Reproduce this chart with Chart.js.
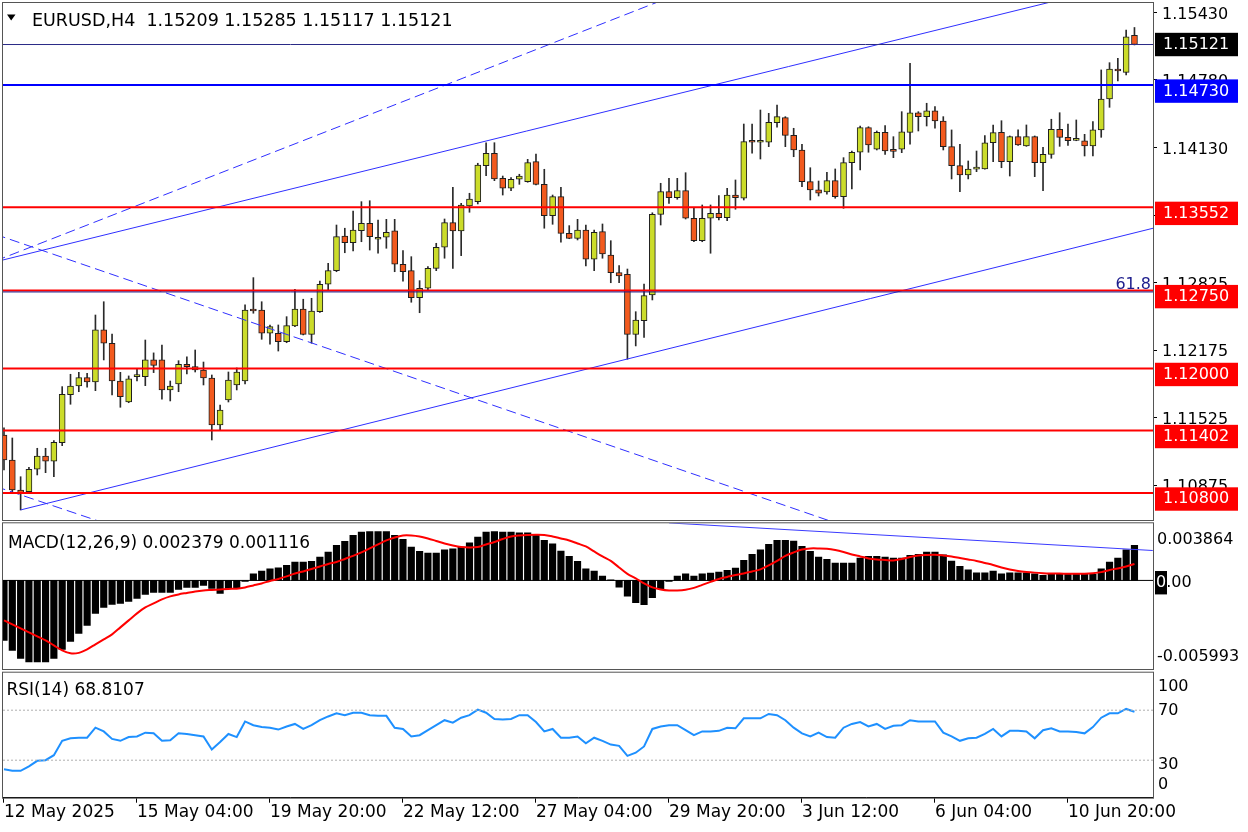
<!DOCTYPE html>
<html>
<head>
<meta charset="utf-8">
<title>EURUSD,H4</title>
<script src="https://cdn.jsdelivr.net/npm/chart.js@4.4.1/dist/chart.umd.min.js"></script>
<style>
  html, body { margin: 0; padding: 0; background: #ffffff; }
  body { position: relative; width: 1248px; height: 832px; overflow: hidden; }
  canvas { position: absolute; left: 0; }
</style>
</head>
<body>
<canvas id="priceChart" width="1248" height="521" style="top:0"></canvas>
<canvas id="macdChart" width="1248" height="150" style="top:520px"></canvas>
<canvas id="rsiChart" width="1248" height="162" style="top:670px"></canvas>
<script>
// ===== data =====
const symbol = "EURUSD,H4";

const opens = [
  1.11359, 1.11118, 1.10829, 1.10813, 1.11029, 1.11157, 1.11106, 1.11286, 1.11747, 1.11831,
  1.11911, 1.11870, 1.12371, 1.12243, 1.11879, 1.11677, 1.11921, 1.11921, 1.12082, 1.12082,
  1.11793, 1.11851, 1.12040, 1.12017, 1.11985, 1.11908, 1.11456, 1.11696, 1.11841, 1.11880,
  1.12559, 1.12563, 1.12339, 1.12339, 1.12258, 1.12409, 1.12573, 1.12329, 1.12547, 1.12811,
  1.12942, 1.13276, 1.13212, 1.13327, 1.13399, 1.13245, 1.13264, 1.13325, 1.13004, 1.12942,
  1.12682, 1.12773, 1.12965, 1.13168, 1.13405, 1.13325, 1.13565, 1.13607, 1.13954, 1.14073,
  1.13832, 1.13736, 1.13823, 1.13800, 1.13992, 1.13774, 1.13472, 1.13655, 1.13302, 1.13254,
  1.13334, 1.13052, 1.13318, 1.13093, 1.12923, 1.12907, 1.12329, 1.12460, 1.12708, 1.13485,
  1.13703, 1.13645, 1.13713, 1.13447, 1.13231, 1.13447, 1.13495, 1.13453, 1.13671, 1.13640,
  1.14185, 1.14179, 1.14179, 1.14368, 1.14416, 1.14245, 1.14105, 1.13800, 1.13720, 1.13700,
  1.13809, 1.13655, 1.13983, 1.14083, 1.14320, 1.14112, 1.14275, 1.14112, 1.14112, 1.14275,
  1.14464, 1.14426, 1.14481, 1.14384, 1.14137, 1.13954, 1.13864, 1.13920, 1.13922, 1.14175,
  1.14275, 1.13992, 1.14233, 1.14143, 1.14233, 1.13983, 1.14063, 1.14304, 1.14227, 1.14198,
  1.14192, 1.14143, 1.14298, 1.14596, 1.14885, 1.14853, 1.15209
];
const highs = [
  1.11427, 1.11330, 1.10957, 1.11048, 1.11231, 1.11231, 1.11304, 1.11825, 1.11944, 1.11963,
  1.11954, 1.12515, 1.12643, 1.12332, 1.11963, 1.11928, 1.11992, 1.12274, 1.12150, 1.12226,
  1.11879, 1.12075, 1.12111, 1.12178, 1.12062, 1.11937, 1.11648, 1.11966, 1.12005, 1.12612,
  1.12875, 1.12643, 1.12419, 1.12419, 1.12499, 1.12763, 1.12667, 1.12676, 1.12843, 1.13013,
  1.13382, 1.13351, 1.13517, 1.13607, 1.13616, 1.13430, 1.13437, 1.13437, 1.13135, 1.13077,
  1.12846, 1.12981, 1.13206, 1.13440, 1.13746, 1.13591, 1.13688, 1.13977, 1.14175, 1.14175,
  1.13854, 1.13838, 1.13871, 1.14015, 1.14066, 1.13919, 1.13671, 1.13746, 1.13376, 1.13437,
  1.13382, 1.13334, 1.13392, 1.13231, 1.12990, 1.12958, 1.12547, 1.12814, 1.13500, 1.13784,
  1.13832, 1.13832, 1.13886, 1.13543, 1.13575, 1.13575, 1.13665, 1.13736, 1.13816, 1.14355,
  1.14355, 1.14490, 1.14458, 1.14538, 1.14426, 1.14314, 1.14160, 1.13934, 1.13806, 1.13890,
  1.13922, 1.14031, 1.14095, 1.14336, 1.14329, 1.14288, 1.14339, 1.14233, 1.14474, 1.14940,
  1.14474, 1.14555, 1.14522, 1.14426, 1.14298, 1.14160, 1.13999, 1.14095, 1.14243, 1.14346,
  1.14387, 1.14240, 1.14298, 1.14346, 1.14240, 1.14131, 1.14401, 1.14464, 1.14355, 1.14394,
  1.14256, 1.14378, 1.14876, 1.14946, 1.14988, 1.15261, 1.15285
];
const lows = [
  1.11022, 1.10810, 1.10637, 1.10800, 1.10974, 1.10996, 1.10957, 1.11256, 1.11655, 1.11776,
  1.11819, 1.11786, 1.12082, 1.11745, 1.11626, 1.11670, 1.11879, 1.11834, 1.11960, 1.11703,
  1.11687, 1.11776, 1.11947, 1.11966, 1.11841, 1.11311, 1.11407, 1.11677, 1.11793, 1.11850,
  1.12532, 1.12281, 1.12233, 1.12168, 1.12248, 1.12403, 1.12323, 1.12243, 1.12541, 1.12756,
  1.12932, 1.13115, 1.13132, 1.13221, 1.13141, 1.13110, 1.13158, 1.12932, 1.12841, 1.12638,
  1.12537, 1.12756, 1.12942, 1.13062, 1.12965, 1.13087, 1.13505, 1.13585, 1.13857, 1.13809,
  1.13671, 1.13713, 1.13774, 1.13794, 1.13768, 1.13351, 1.13389, 1.13216, 1.13250, 1.13238,
  1.12987, 1.12942, 1.13062, 1.12826, 1.12826, 1.12089, 1.12217, 1.12300, 1.12660, 1.13382,
  1.13591, 1.13630, 1.13440, 1.13221, 1.13221, 1.13110, 1.13430, 1.13424, 1.13534, 1.13623,
  1.14073, 1.14018, 1.14137, 1.14324, 1.14137, 1.14040, 1.13751, 1.13623, 1.13662, 1.13678,
  1.13640, 1.13543, 1.13729, 1.13912, 1.14083, 1.14105, 1.14063, 1.14031, 1.14079, 1.14160,
  1.14288, 1.14336, 1.14314, 1.14105, 1.13826, 1.13703, 1.13826, 1.13896, 1.13920, 1.13992,
  1.13934, 1.13854, 1.14150, 1.14140, 1.13848, 1.13713, 1.14025, 1.14140, 1.14150, 1.14194,
  1.14047, 1.14047, 1.14227, 1.14516, 1.14770, 1.14827, 1.15117
];
const closes = [
  1.11118, 1.10829, 1.10803, 1.11029, 1.11157, 1.11106, 1.11289, 1.11751, 1.11831, 1.11911,
  1.11870, 1.12371, 1.12243, 1.11879, 1.11728, 1.11899, 1.11928, 1.12082, 1.12030, 1.11793,
  1.11831, 1.12040, 1.12017, 1.11985, 1.11908, 1.11456, 1.11600, 1.11889, 1.11966, 1.12563,
  1.12554, 1.12339, 1.12403, 1.12258, 1.12412, 1.12573, 1.12329, 1.12554, 1.12811, 1.12942,
  1.13270, 1.13212, 1.13334, 1.13399, 1.13270, 1.13260, 1.13312, 1.13004, 1.12932, 1.12682,
  1.12773, 1.12965, 1.13168, 1.13405, 1.13325, 1.13575, 1.13633, 1.13960, 1.14073, 1.13826,
  1.13736, 1.13823, 1.13854, 1.13983, 1.13774, 1.13472, 1.13655, 1.13302, 1.13254, 1.13334,
  1.13052, 1.13312, 1.13103, 1.12923, 1.12891, 1.12329, 1.12467, 1.12701, 1.13485, 1.13703,
  1.13645, 1.13713, 1.13447, 1.13231, 1.13447, 1.13495, 1.13453, 1.13671, 1.13645, 1.14185,
  1.14179, 1.14182, 1.14372, 1.14426, 1.14245, 1.14105, 1.13800, 1.13720, 1.13688, 1.13809,
  1.13655, 1.13983, 1.14083, 1.14320, 1.14153, 1.14275, 1.14095, 1.14092, 1.14281, 1.14464,
  1.14426, 1.14481, 1.14384, 1.14137, 1.13954, 1.13864, 1.13922, 1.13924, 1.14175, 1.14272,
  1.13992, 1.14233, 1.14153, 1.14233, 1.13983, 1.14063, 1.14304, 1.14227, 1.14194, 1.14202,
  1.14143, 1.14298, 1.14596, 1.14885, 1.14866, 1.15196, 1.15121
];

// MACD(12,26,9): main line (histogram) and signal
const macdHist = [
  -0.004056, -0.004732, -0.005273, -0.005516, -0.005516, -0.005516, -0.005273, -0.004664, -0.004124, -0.003583,
  -0.003042, -0.002231, -0.001825, -0.001622, -0.001555, -0.001420, -0.001217, -0.000946, -0.000811, -0.000811,
  -0.000811, -0.000608, -0.000473, -0.000473, -0.000338, -0.000541, -0.000879, -0.000541, -0.000514, -0.000068,
  0.000453, 0.000635, 0.000791, 0.000859, 0.001014, 0.001244, 0.001244, 0.001284, 0.001582, 0.001920,
  0.002366, 0.002636, 0.003042, 0.003272, 0.003312, 0.003312, 0.003312, 0.003042, 0.002772, 0.002258,
  0.001960, 0.001852, 0.001852, 0.002075, 0.002143, 0.002258, 0.002549, 0.002934, 0.003272, 0.003312,
  0.003272, 0.003272, 0.003225, 0.003225, 0.003089, 0.002704, 0.002481, 0.001987, 0.001622, 0.001284,
  0.000791, 0.000629, 0.000291, 0.000034, -0.000453, -0.001061, -0.001507, -0.001643, -0.001169, -0.000561,
  -0.000068, 0.000291, 0.000453, 0.000291, 0.000453, 0.000493, 0.000561, 0.000676, 0.000831, 0.001352,
  0.001758, 0.002075, 0.002434, 0.002704, 0.002704, 0.002657, 0.002298, 0.001960, 0.001575, 0.001420,
  0.001169, 0.001169, 0.001169, 0.001507, 0.001622, 0.001622, 0.001575, 0.001507, 0.001507, 0.001690,
  0.001758, 0.001913, 0.001913, 0.001737, 0.001305, 0.000946, 0.000723, 0.000521, 0.000521, 0.000629,
  0.000453, 0.000521, 0.000521, 0.000521, 0.000453, 0.000338, 0.000453, 0.000453, 0.000453, 0.000406,
  0.000406, 0.000406, 0.000791, 0.001237, 0.001507, 0.002075, 0.002379
];
const macdSignal = [
  -0.002704, -0.002974, -0.003245, -0.003515, -0.003786, -0.004056, -0.004394, -0.004732, -0.004935, -0.004901,
  -0.004664, -0.004326, -0.003988, -0.003650, -0.003177, -0.002704, -0.002231, -0.001825, -0.001555, -0.001284,
  -0.001082, -0.000946, -0.000845, -0.000744, -0.000676, -0.000642, -0.000608, -0.000575, -0.000561, -0.000473,
  -0.000338, -0.000203, -0.000034, 0.000101, 0.000270, 0.000473, 0.000608, 0.000777, 0.000946, 0.001115,
  0.001251, 0.001453, 0.001656, 0.001893, 0.002163, 0.002434, 0.002704, 0.002907, 0.003042, 0.003042,
  0.002974, 0.002839, 0.002670, 0.002501, 0.002366, 0.002265, 0.002231, 0.002258, 0.002434, 0.002603,
  0.002805, 0.002974, 0.003042, 0.003076, 0.003089, 0.003076, 0.002974, 0.002839, 0.002704, 0.002501,
  0.002298, 0.001960, 0.001622, 0.001318, 0.000879, 0.000439, 0.000135, -0.000203, -0.000473, -0.000608,
  -0.000676, -0.000676, -0.000629, -0.000507, -0.000304, -0.000101, 0.000101, 0.000237, 0.000372, 0.000473,
  0.000608, 0.000744, 0.001014, 0.001318, 0.001656, 0.001893, 0.002096, 0.002163, 0.002163, 0.002143,
  0.002062, 0.001927, 0.001758, 0.001622, 0.001487, 0.001420, 0.001386, 0.001352, 0.001453, 0.001589,
  0.001690, 0.001724, 0.001737, 0.001690, 0.001622, 0.001521, 0.001420, 0.001318, 0.001183, 0.001048,
  0.000879, 0.000744, 0.000642, 0.000575, 0.000527, 0.000493, 0.000473, 0.000460, 0.000453, 0.000453,
  0.000453, 0.000487, 0.000561, 0.000710, 0.000811, 0.000946, 0.001116
];

// RSI(14)
const rsiValues = [
  22.7, 21.5, 21.5, 25, 29.5, 30, 34, 45.5, 47.5, 48,
  48, 56, 53, 47, 45.5, 48.5, 49, 52, 51.5, 45.5,
  46, 51.5, 51, 50, 49, 38.5, 44.5, 51, 48.5, 61,
  58, 56.5, 56, 54.5, 57, 59, 55, 58, 62, 65,
  67.5, 66, 68, 68, 66, 65.5, 65.5, 56, 55, 49,
  50, 54, 58, 62, 60, 64, 66, 70.5, 68, 63,
  62.5, 63, 66, 66, 60.5, 53, 55, 48, 48, 49,
  43.5, 48, 45.5, 42.5, 41.5, 33.5, 36, 41, 55, 57,
  58, 58, 54, 50, 53, 53, 53.5, 56, 55.5, 63.5,
  63.5, 63.5, 67, 66, 62, 56, 51.5, 49, 52, 48.5,
  48, 56, 59, 60.5, 57, 59, 55, 57.5, 58, 62,
  61, 61, 61, 52, 49, 45.5, 47.5, 48, 51, 55,
  49, 53.5, 53.5, 53, 47.5, 54, 55.5, 53, 53, 52.5,
  51.5, 56.5, 64, 67.5, 67.5, 71, 68.8107
];

const timeTickIdx = [0, 16, 32, 48, 64, 80, 96, 112, 128];
const timeTickLabels = ["12 May 2025", "15 May 04:00", "19 May 20:00", "22 May 12:00", "27 May 04:00",
  "29 May 20:00", "3 Jun 12:00", "6 Jun 04:00", "10 Jun 20:00"];
const priceTicks = [1.15430, 1.14780, 1.14130, 1.13475, 1.12825, 1.12175, 1.11525, 1.10875];
const redLevels = [1.13552, 1.12750, 1.12000, 1.11402, 1.10800];
const blueLevel = 1.14730;
const fiboLevel = 1.12750;
const fiboLabel = "61.8";
const macdTicks = [0.003864, 0, -0.005993];
const macdTickLabels = ["0.003864", "0.00", "-0.005993"];
const rsiTicks = [100, 70, 30, 0];
const rsiLevels = [70, 30];

// trendlines as [barIndex1, price1, barIndex2, price2]
const solidTrends = [[-1, 1.13028, 130, 1.15611], [2, 1.10637, 140, 1.13386]];
const dashedTrends = [[-1, 1.13037, 80, 1.15573], [-1, 1.13291, 101, 1.10486], [-1, 1.10863, 13, 1.10486]];
const macdTrend = [80, 0.003890, 138.2, 0.002023];

// ===== helpers =====
const FONT = "DejaVu Sans";
Chart.defaults.font.family = FONT;
Chart.defaults.color = "#000";

const X_MIN = -0.12, X_MAX = 138.23;
const last = closes.length - 1;
const idx = closes.map((_, i) => i);

function hLine(level, color, width, dash) {
  return {
    type: "line", data: [{ x: X_MIN, y: level }, { x: X_MAX, y: level }],
    borderColor: color, borderWidth: width, borderDash: dash || [],
    pointRadius: 0, clip: 0, order: 0
  };
}
function segment(seg, color, dash) {
  return {
    type: "line", data: [{ x: seg[0], y: seg[1] }, { x: seg[2], y: seg[3] }],
    borderColor: color, borderWidth: 1, borderDash: dash || [],
    pointRadius: 0, clip: 0, order: 0
  };
}
// keep the panel edges where they are: no extra room for tick labels
function fixSide(s) { s.width = 95; s.paddingTop = 0; s.paddingBottom = 0; }

const framePlugin = {
  id: "frame",
  afterDraw(chart) {
    const { ctx, chartArea: a } = chart;
    ctx.save();
    ctx.strokeStyle = "#555";
    ctx.lineWidth = 1;
    ctx.strokeRect(a.left - 0.5, a.top - 0.5, a.right - a.left + 1, a.bottom - a.top + 1);
    ctx.restore();
  }
};

function tag(ctx, text, top, bg) {
  ctx.fillStyle = bg;
  ctx.fillRect(1155, top, 83, 23.4);
  ctx.fillStyle = "#fff";
  ctx.textBaseline = "middle";
  ctx.textAlign = "left";
  ctx.fillText(text, 1163, top + 12);
}

const priceOverlay = {
  id: "priceOverlay",
  afterDraw(chart) {
    const { ctx } = chart;
    const ys = chart.scales.y;
    ctx.save();
    // header
    ctx.fillStyle = "#000";
    ctx.beginPath();
    ctx.moveTo(7, 14.5); ctx.lineTo(15.5, 14.5); ctx.lineTo(11.2, 20.5); ctx.closePath();
    ctx.fill();
    ctx.font = "17.5px '" + FONT + "'";
    ctx.textBaseline = "alphabetic";
    ctx.fillText(symbol + "  " + [opens[last], highs[last], lows[last], closes[last]].map(v => v.toFixed(5)).join(" "), 32, 26);
    // fibo label
    ctx.font = "16px '" + FONT + "'";
    ctx.fillStyle = "#1c1c8c";
    ctx.textAlign = "right";
    ctx.fillText(fiboLabel, 1151, ys.getPixelForValue(fiboLevel) - 1.5);
    // price tags
    tag(ctx, closes[last].toFixed(5), ys.getPixelForValue(closes[last]) - 11.7, "#000");
    tag(ctx, blueLevel.toFixed(5), ys.getPixelForValue(blueLevel) - 5.7, "#0000ff");
    redLevels.forEach(v => tag(ctx, v.toFixed(5), ys.getPixelForValue(v) - 5.7, "#ff0000"));
    ctx.restore();
  }
};

// ===== price chart =====
new Chart(document.getElementById("priceChart"), {
  type: "bar",
  data: {
    datasets: [
      hLine(closes[last], "#2a2a86", 1),
      hLine(blueLevel, "#0000ff", 2),
      hLine(fiboLevel - 0.00013, "#1c1c8c", 1),
      ...redLevels.map(v => hLine(v, "#ff0000", 2)),
      ...solidTrends.map(s => segment(s, "#2f2fff")),
      ...dashedTrends.map(s => segment(s, "#2f2fff", [10, 5])),
      {
        type: "bar",
        data: idx.map(i => ({ x: i, y: [opens[i], closes[i]] })),
        backgroundColor: idx.map(i => closes[i] >= opens[i] ? "#cbdc2a" : "#f25a1e"),
        borderColor: "#1e1e1e", borderWidth: 1, borderSkipped: false,
        barThickness: 6, minBarLength: 2, grouped: false, order: 2
      },
      {
        type: "bar",
        data: idx.map(i => ({ x: i, y: [lows[i], highs[i]] })),
        backgroundColor: "#2a2a2a", barThickness: 1, grouped: false, order: 3
      }
    ]
  },
  options: {
    responsive: false, animation: false, events: [],
    layout: { padding: { left: 3, top: 3, right: 0, bottom: 1 } },
    plugins: { legend: { display: false }, tooltip: { enabled: false } },
    scales: {
      x: { type: "linear", min: X_MIN, max: X_MAX, offset: false, display: false },
      y: {
        position: "right", min: 1.10540, max: 1.15521,
        afterFit: fixSide,
        afterBuildTicks(s) { s.ticks = priceTicks.map(v => ({ value: v })); },
        ticks: { callback: v => Number(v).toFixed(5), font: { size: 16 }, color: "#000", padding: 5, labelOffset: 2 },
        grid: { drawOnChartArea: false, tickLength: 4, color: "#000" },
        border: { color: "#000" }
      }
    }
  },
  plugins: [framePlugin, priceOverlay]
});

// ===== MACD =====
const macdOverlay = {
  id: "macdOverlay",
  afterDraw(chart) {
    const { ctx } = chart;
    const ys = chart.scales.y;
    const offsets = [16.7, 2.6, -12.3];
    ctx.save();
    ctx.font = "17px '" + FONT + "'";
    ctx.fillStyle = "#000";
    ctx.textBaseline = "alphabetic";
    ctx.fillText("MACD(12,26,9) " + macdHist[last].toFixed(6) + " " + macdSignal[last].toFixed(6), 8, 28.3);
    ctx.font = "16px '" + FONT + "'";
    ctx.textBaseline = "middle";
    macdTicks.forEach((v, k) => {
      const y = ys.getPixelForValue(v) + offsets[k];
      if (v === 0) {
        ctx.fillStyle = "#000";
        ctx.fillRect(1155, y - 12, 12, 23.4);
        ctx.fillText(macdTickLabels[k], 1156, y);
        ctx.save();
        ctx.beginPath(); ctx.rect(1155, y - 12, 12, 23.4); ctx.clip();
        ctx.fillStyle = "#fff";
        ctx.fillText(macdTickLabels[k], 1156, y);
        ctx.restore();
      } else {
        ctx.fillStyle = "#000";
        ctx.fillText(macdTickLabels[k], 1157, y);
      }
    });
    ctx.restore();
  }
};

new Chart(document.getElementById("macdChart"), {
  type: "bar",
  data: {
    datasets: [
      {
        type: "line", data: idx.map(i => ({ x: i, y: macdSignal[i] })),
        borderColor: "#ff0000", borderWidth: 2, pointRadius: 0, tension: 0.3, order: 0
      },
      hLine(0, "#000", 1),
      segment(macdTrend, "#3a3aff"),
      {
        type: "bar", data: idx.map(i => ({ x: i, y: macdHist[i] })),
        backgroundColor: "#000", barThickness: 6.5, grouped: false, order: 2
      }
    ]
  },
  options: {
    responsive: false, animation: false, events: [],
    layout: { padding: { left: 3, top: 3.3, right: 0, bottom: 1 } },
    plugins: { legend: { display: false }, tooltip: { enabled: false } },
    scales: {
      x: { type: "linear", min: X_MIN, max: X_MAX, offset: false, display: false },
      y: {
        position: "right", min: macdTicks[2], max: macdTicks[0],
        afterFit: fixSide,
        ticks: { display: false },
        grid: { display: false },
        border: { color: "#000" }
      }
    }
  },
  plugins: [framePlugin, macdOverlay]
});

// ===== RSI =====
const rsiOverlay = {
  id: "rsiOverlay",
  afterDraw(chart) {
    const { ctx } = chart;
    const ys = chart.scales.y;
    const offsets = [14.3, 0.8, 4.8, -12.7];
    ctx.save();
    ctx.fillStyle = "#000";
    ctx.font = "17px '" + FONT + "'";
    ctx.textBaseline = "alphabetic";
    ctx.fillText("RSI(14) " + rsiValues[last].toFixed(4), 6.5, 25);
    ctx.font = "16px '" + FONT + "'";
    ctx.textBaseline = "middle";
    rsiTicks.forEach((v, k) => ctx.fillText(String(v), 1158, ys.getPixelForValue(v) + offsets[k]));
    ctx.restore();
  }
};

new Chart(document.getElementById("rsiChart"), {
  type: "line",
  data: {
    datasets: [
      ...rsiLevels.map(v => hLine(v, "#b0b0b0", 1, [2, 2])),
      {
        type: "line", data: idx.map(i => ({ x: i, y: rsiValues[i] })),
        borderColor: "#1e90ff", borderWidth: 2, pointRadius: 0, tension: 0, order: 0
      }
    ]
  },
  options: {
    responsive: false, animation: false, events: [],
    layout: { padding: { left: 3, top: 2.7, right: 0, bottom: 0 } },
    plugins: { legend: { display: false }, tooltip: { enabled: false } },
    scales: {
      x: {
        type: "linear", min: X_MIN, max: X_MAX, offset: false,
        afterFit(s) { s.height = 34.3; s.paddingLeft = 0; s.paddingRight = 0; },
        afterBuildTicks(s) { s.ticks = timeTickIdx.map(v => ({ value: v })); },
        ticks: {
          callback: v => timeTickLabels[timeTickIdx.indexOf(v)],
          align: "start", autoSkip: false, maxRotation: 0, font: { size: 17 }, color: "#000", padding: 0
        },
        grid: { drawOnChartArea: false, tickLength: 5, color: "#000" },
        border: { color: "#000" }
      },
      y: {
        position: "right", min: 0, max: 100,
        afterFit: fixSide,
        ticks: { display: false },
        grid: { display: false },
        border: { color: "#000" }
      }
    }
  },
  plugins: [framePlugin, rsiOverlay]
});
</script>
</body>
</html>
